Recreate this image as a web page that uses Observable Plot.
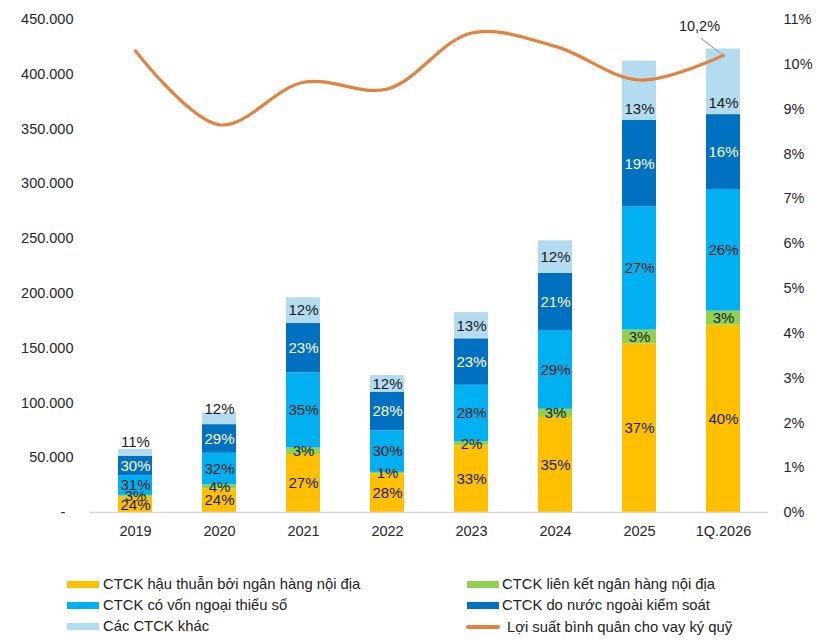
<!DOCTYPE html>
<html>
<head>
<meta charset="utf-8">
<script src="https://cdn.jsdelivr.net/npm/d3@7"></script>
<script src="https://cdn.jsdelivr.net/npm/@observablehq/plot@0.6"></script>
<style>
  html, body { margin: 0; padding: 0; background: #fff; }
  #wrap { position: relative; width: 828px; height: 644px; font-family: "Liberation Sans", Arial, sans-serif; color: #222; }
  .lg { position: absolute; height: 20px; line-height: 20px; font-size: 14.8px; white-space: nowrap; }
  .sw { position: absolute; width: 32px; height: 7px; }
  .ln { position: absolute; width: 34px; height: 4px; border-radius: 2px; }
</style>
</head>
<body>
<div id="wrap"></div>
<script>
// Margin lending balance by securities-company group (bn VND) and average margin rate
const years = ["2019", "2020", "2021", "2022", "2023", "2024", "2025", "1Q.2026"];
const totals = [57500, 91000, 196000, 125000, 182500, 248000, 412000, 423000];

const seriesNames = [
  "CTCK hậu thuẫn bởi ngân hàng nội địa",
  "CTCK liên kết ngân hàng nội địa",
  "CTCK có vốn ngoại thiểu số",
  "CTCK do nước ngoài kiểm soát",
  "Các CTCK khác"
];
const seriesColors = ["#FFC000", "#92D050", "#00B0F0", "#0070C0", "#B4DCF0"];

// shares (%) of each group in the yearly total
const sharesBankBacked = [24, 24, 27, 28, 33, 35, 37, 40];
const sharesBankLinked = [3, 4, 3, 1, 2, 3, 3, 3];
const sharesForeignMinority = [31, 32, 35, 30, 28, 29, 27, 26];
const sharesForeignControlled = [30, 29, 23, 28, 23, 21, 19, 16];
const sharesOther = [11, 12, 12, 12, 13, 12, 13, 14];

// average margin lending rate (%)
const marginRates = [10.3, 8.65, 9.6, 9.45, 10.7, 10.4, 9.65, 10.2];

const leftTicks = [0, 50000, 100000, 150000, 200000, 250000, 300000, 350000, 400000, 450000];
const rightTicks = [0, 1, 2, 3, 4, 5, 6, 7, 8, 9, 10, 11];
const rateLabel = "Lợi suất bình quân cho vay ký quỹ";

// ---- layout ----
const W = 828, H = 555, mTop = 19, mBottom = 43, mLeft = 90, mRight = 60;
const yMax = 450000;
const unitsPerPx = yMax / (H - mTop - mBottom);

// ---- derived tables ----
const shareSeries = [sharesBankBacked, sharesBankLinked, sharesForeignMinority, sharesForeignControlled, sharesOther];
const K = yMax / 11; // value units per percentage point of the right axis

// small vertical nudges for top-segment labels (pixels, positive = down)
const topNudge = {"2019": -11, "2020": -10, "2025": 18, "1Q.2026": 21};

const segments = [];
years.forEach((year, i) => {
  const sum = d3.sum(shareSeries, s => s[i]);
  let acc = 0;
  shareSeries.forEach((s, j) => {
    const v = totals[i] * s[i] / sum;
    const top = j === shareSeries.length - 1;
    const mid = acc + v / 2 - (top ? (topNudge[year] || 0) * unitsPerPx : 0);
    segments.push({year, series: seriesNames[j], idx: j, share: s[i], y1: acc, y2: acc + v, mid});
    acc += v;
  });
});

const rates = years.map((year, i) => ({year, rate: marginRates[i], v: marginRates[i] * K}));
const lastRate = rates[rates.length - 1];

const fmtThousands = d => d === 0 ? "-\u00a0\u00a0" : d3.format(",")(d).replace(/,/g, ".");

const chart = Plot.plot({
  width: W,
  height: H,
  marginTop: mTop,
  marginBottom: mBottom,
  marginLeft: mLeft,
  marginRight: mRight,
  style: {fontFamily: "'Liberation Sans', Arial, sans-serif", fontSize: "14.5px", color: "#262626", background: "white"},
  x: {type: "band", domain: years, paddingInner: 0.6, paddingOuter: 0.3, axis: null},
  y: {domain: [0, yMax], axis: null},
  color: {domain: seriesNames, range: seriesColors},
  marks: [
    Plot.axisY({anchor: "left", ticks: leftTicks, tickSize: 0, tickPadding: 17, tickFormat: fmtThousands, label: null}),
    Plot.axisY({anchor: "right", ticks: rightTicks.map(t => t * K), tickSize: 0, tickPadding: 15,
      tickFormat: d => Math.round(d / K) + "%", label: null}),
    Plot.axisX({tickSize: 0, tickPadding: 13, label: null}),
    Plot.rectY(segments, {x: "year", y1: "y1", y2: "y2", fill: "series"}),
    Plot.ruleY([0], {stroke: "#d9d9d9", strokeWidth: 1.5}),
    Plot.text(segments.filter(d => d.idx !== 3), {
      x: "year", y: "mid", text: d => d.share + "%", fill: "#1a1a1a", fontSize: 15
    }),
    Plot.text(segments.filter(d => d.idx === 3), {
      x: "year", y: "mid", text: d => d.share + "%", fill: "white", fontSize: 15
    }),
    Plot.line(rates, {x: "year", y: "v", curve: "catmull-rom", stroke: "#E5813E", strokeWidth: 3.2}),
    Plot.vector([lastRate], {
      x: "year", y: "v", length: 28, rotate: -53, anchor: "start", stroke: "#a6a6a6", strokeWidth: 1,
      shape: {draw(context, l) { context.moveTo(0, 0); context.lineTo(0, -l); }}
    }),
    Plot.text([lastRate], {
      x: "year", y: "v", text: d => d.rate.toFixed(1).replace(".", ",") + "%",
      dx: -24, dy: -29, fill: "#1a1a1a", fontSize: 14.5
    })
  ]
});

const wrap = document.getElementById("wrap");
wrap.appendChild(chart);

// legend below the chart
const legendItems = [
  {kind: "sw", color: seriesColors[0], text: seriesNames[0], x: 67, tx: 103, y: 584},
  {kind: "sw", color: seriesColors[1], text: seriesNames[1], x: 467, tx: 502, y: 584},
  {kind: "sw", color: seriesColors[2], text: seriesNames[2], x: 67, tx: 103, y: 605},
  {kind: "sw", color: seriesColors[3], text: seriesNames[3], x: 467, tx: 502, y: 605},
  {kind: "sw", color: seriesColors[4], text: seriesNames[4], x: 67, tx: 103, y: 626},
  {kind: "ln", color: "#E5813E", text: rateLabel, x: 466, tx: 507, y: 627}
];
legendItems.forEach(it => {
  const s = document.createElement("div");
  s.className = it.kind;
  s.style.background = it.color;
  s.style.left = it.x + "px";
  s.style.top = (it.y - (it.kind === "sw" ? 3.5 : 2)) + "px";
  wrap.appendChild(s);
  const t = document.createElement("div");
  t.className = "lg";
  t.textContent = it.text;
  t.style.left = it.tx + "px";
  t.style.top = (it.y - 10) + "px";
  wrap.appendChild(t);
});
</script>
</body>
</html>
